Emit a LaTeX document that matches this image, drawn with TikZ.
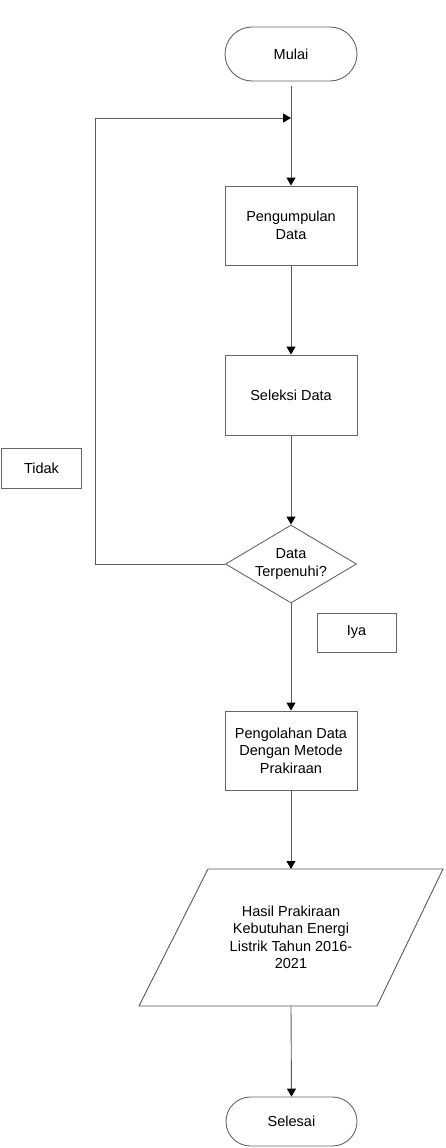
\documentclass[tikz,border=0pt]{standalone}
\usepackage{fontspec}
\setmainfont{Liberation Sans}
\usetikzlibrary{arrows.meta,shapes.geometric}
\begin{document}
\begin{tikzpicture}[x=1pt,y=-1pt,
  line/.style={draw=black!65, line width=0.9pt},
  arr/.style={line, -{Triangle[width=9pt,length=8pt,color=black]}},
  box/.style={draw=black!60, line width=0.9pt, minimum width=132pt, minimum height=79pt, align=center, inner sep=0pt},
  lbl/.style={draw=black!60, line width=0.9pt, minimum width=79pt, minimum height=39pt, inner sep=0pt},
  term/.style={draw=black!60, line width=0.9pt, minimum width=132pt, minimum height=54pt, rounded corners=27pt, inner sep=0pt},
  dec/.style={draw=black!60, line width=0.9pt, diamond, minimum width=131pt, minimum height=78pt, inner sep=0pt},
  every node/.append style={font=\fontsize{14.5}{17.5}\selectfont}
]
\useasboundingbox (0,0) rectangle (446,1148);

\node[term] (mulai) at (291,54) {Mulai};
\node[box] (peng) at (291,225.5) {Pengumpulan\\Data};
\node[box, minimum height=80pt] (sel) at (291,395) {Seleksi Data};
\node[dec] (dec) at (291,564) {};
\node[align=center] (dectext) at (291,564) {Data\\Terpenuhi?};
\node[lbl, minimum width=80pt, minimum height=40pt] (tidak) at (41.5,468) {Tidak};
\node[lbl] (iya) at (356.5,632.5) {Iya};
\node[box] (olah) at (291,750.5) {Pengolahan Data\\Dengan Metode\\Prakiraan};

\coordinate (htl) at (208,869);
\coordinate (htr) at (443,869);
\coordinate (hbr) at (377,1006);
\coordinate (hbl) at (139,1006);
\draw[line] (htl) -- (htr) -- (hbr) -- (hbl) -- cycle;
\coordinate (htop) at (291,869);
\coordinate (hbot) at (291,1006);
\node[align=center] (hasil) at (291,937.5) {Hasil Prakiraan\\Kebutuhan Energi\\Listrik Tahun 2016-\\2021};

\node[term, minimum width=131pt, minimum height=49pt, rounded corners=24.5pt] (selesai) at (291.5,1121.5) {Selesai};

\coordinate (lc) at (95,118);
\coordinate (join) at (291,118);

\draw[arr, shorten <=5pt] (mulai.south) -- (peng.north);
\draw[arr] (peng.south) -- (sel.north);
\draw[arr] (sel.south) -- (dec.north);
\draw[arr] (dec.south) -- (olah.north);
\draw[arr] (olah.south) -- (htop);
\draw[arr] (hbot) -- (selesai.north);
\draw[arr] (dec.west) -| (lc) -- (join);
\end{tikzpicture}
\end{document}
